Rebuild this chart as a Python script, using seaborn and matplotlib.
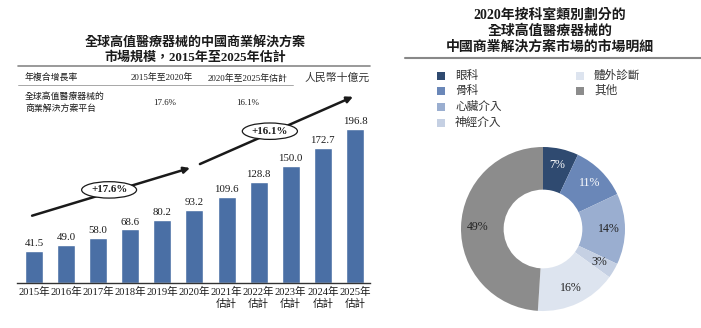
import matplotlib
matplotlib.use("Agg")
import matplotlib.pyplot as plt
import seaborn as sns
import pandas as pd
from matplotlib.lines import Line2D
from matplotlib.patches import Rectangle

# ---------------- data ----------------
years = ["2015年", "2016年", "2017年", "2018年", "2019年", "2020年",
         "2021年\n估計", "2022年\n估計", "2023年\n估計", "2024年\n估計", "2025年\n估計"]
market_size = [41.5, 49.0, 58.0, 68.6, 80.2, 93.2, 109.6, 128.8, 150.0, 172.7, 196.8]
cagr_labels = ["+17.6%", "+16.1%"]
cagr_values = ["17.6%", "16.1%"]

segments = ["眼科", "骨科", "心臟介入", "神經介入", "體外診斷", "其他"]
shares = [7, 11, 14, 3, 16, 49]
seg_colors = ["#2f4a70", "#6a87b8", "#9aaed0", "#c5d0e3", "#dde4ef", "#8c8c8c"]
pct_text_colors = ["white", "white", "#222222", "#222222", "#222222", "#222222"]

# ---------------- style ----------------
sns.set_style("white")
plt.rcParams["font.family"] = ["Liberation Serif", "Noto Sans CJK TC"]
plt.rcParams["axes.unicode_minus"] = False

W, H = 701, 328
fig = plt.figure(figsize=(W / 100, H / 100), dpi=100)


def px(x, y):
    return x / W, 1 - y / H


def hline(x0, x1, y, lw=1.0, color="#888888"):
    fig.add_artist(Line2D([x0 / W, x1 / W], [1 - y / H, 1 - y / H],
                          transform=fig.transFigure, lw=lw, color=color))


TXT = "#1a1a1a"

# ---------------- left: bar chart ----------------
ax = fig.add_axes([17 / W, (H - 283) / H, 353 / W, 223 / H])
df = pd.DataFrame({"year": years, "value": market_size})
sns.barplot(data=df, x="year", y="value", color="#4a6fa5", width=0.56,
            saturation=1, ax=ax)
ax.set_xlim(-0.53, 10.47)
ax.set_ylim(0, 223 / 0.7825)
for c in ax.containers:
    ax.bar_label(c, labels=[f"{v:.1f}" for v in market_size], padding=2,
                 fontsize=7.8, color=TXT)
ax.set_xlabel("")
ax.set_ylabel("")
ax.set_yticks([])
ax.tick_params(axis="x", length=0, pad=3, labelsize=7.6, colors=TXT)
for s in ["top", "left", "right"]:
    ax.spines[s].set_visible(False)
ax.spines["bottom"].set_color("#333333")
ax.spines["bottom"].set_linewidth(1.0)

# CAGR arrows
ax.annotate("", xy=(4.86, 147), xytext=(-0.06, 86),
            arrowprops=dict(arrowstyle="-|>", lw=1.8, color="#1a1a1a",
                            mutation_scale=9, shrinkA=0, shrinkB=0))
ax.annotate("", xy=(9.94, 238), xytext=(5.17, 152),
            arrowprops=dict(arrowstyle="-|>", lw=1.8, color="#1a1a1a",
                            mutation_scale=9, shrinkA=0, shrinkB=0))
ax.text(2.34, 119, cagr_labels[0], ha="center", va="center", fontsize=7.8,
        fontweight="bold", color=TXT, zorder=5,
        bbox=dict(boxstyle="ellipse,pad=0.12", fc="white", ec="#1a1a1a", lw=0.9))
ax.text(7.35, 194, cagr_labels[1], ha="center", va="center", fontsize=7.8,
        fontweight="bold", color=TXT, zorder=5,
        bbox=dict(boxstyle="ellipse,pad=0.12", fc="white", ec="#1a1a1a", lw=0.9))

# left title & table
fig.text(*px(195, 42), "全球高值醫療器械的中國商業解決方案", ha="center", va="center",
         fontsize=9.4, fontweight="bold", color=TXT)
fig.text(*px(195, 57), "市場規模，2015年至2025年估計", ha="center", va="center",
         fontsize=9.4, fontweight="bold", color=TXT)
hline(18, 370, 66, lw=1.2)
fig.text(*px(25, 78), "年複合增長率", ha="left", va="center", fontsize=6.4, color=TXT)
fig.text(*px(162, 78), "2015年至2020年", ha="center", va="center", fontsize=6.4, color=TXT)
fig.text(*px(248, 78), "2020年至2025年估計", ha="center", va="center", fontsize=6.4, color=TXT)
fig.text(*px(337, 78), "人民幣十億元", ha="center", va="center", fontsize=7.8,
         style="italic", color="#333333")
hline(18, 293, 85, lw=0.6, color="#999999")
fig.text(*px(25, 97), "全球高值醫療器械的", ha="left", va="center", fontsize=6.4, color=TXT)
fig.text(*px(25, 108), "商業解決方案平台", ha="left", va="center", fontsize=6.4, color=TXT)
fig.text(*px(165, 103), cagr_values[0], ha="center", va="center", fontsize=6.4, color=TXT)
fig.text(*px(248, 103), cagr_values[1], ha="center", va="center", fontsize=6.4, color=TXT)

# ---------------- right: donut ----------------
pax = fig.add_axes([(543 - 90) / W, (H - 229 - 90) / H, 180 / W, 180 / H])
wedges, _, autotexts = pax.pie(
    shares, colors=seg_colors, startangle=90, counterclock=False,
    radius=82 / 90, autopct=lambda p: f"{p:.0f}%", pctdistance=0.8,
    wedgeprops=dict(width=0.52 * 82 / 90, edgecolor="none"),
    textprops=dict(fontsize=8.6))
for t, c in zip(autotexts, pct_text_colors):
    t.set_color(c)
pax.set_xlim(-1, 1)
pax.set_ylim(-1, 1)
pax.set_aspect("equal")
pax.axis("off")

fig.text(*px(550, 15), "2020年按科室類別劃分的", ha="center", va="center",
         fontsize=10, fontweight="bold", color=TXT)
fig.text(*px(550, 31), "全球高值醫療器械的", ha="center", va="center",
         fontsize=10, fontweight="bold", color=TXT)
fig.text(*px(550, 47), "中國商業解決方案市場的市場明細", ha="center", va="center",
         fontsize=10, fontweight="bold", color=TXT)
hline(405, 701, 58, lw=1.5)

# legend (4 in first column, 2 in second)
leg_pos = [(437, 76), (437, 91), (437, 107), (437, 123), (576, 76), (576, 91)]
for (lx, ly), name, col in zip(leg_pos, segments, seg_colors):
    x0, y0 = px(lx, ly + 4)
    fig.add_artist(Rectangle((x0, y0), 8 / W, 8 / H, transform=fig.transFigure,
                             fc=col, ec="none"))
    fig.text(*px(lx + 18, ly), name, ha="left", va="center", fontsize=8.4,
             color="#333333")

fig.savefig("out.png", dpi=100)
